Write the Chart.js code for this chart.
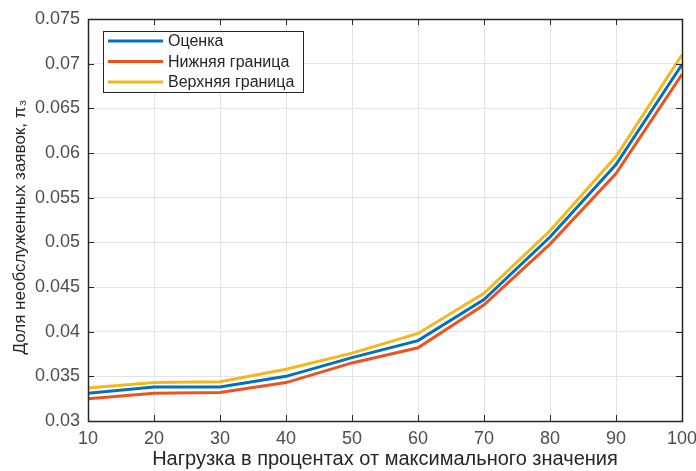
<!DOCTYPE html>
<html lang="ru">
<head>
  <meta charset="UTF-8">
  <title>Доля необслуженных заявок</title>
  <style>
    html, body {
      margin: 0;
      padding: 0;
      background: #fff;
    }
    #wrap {
      width: 696px;
      height: 471px;
    }
  </style>
</head>
<body>

  <div id="wrap"><canvas id="chartCanvas"></canvas></div>

  <script src="https://cdn.jsdelivr.net/npm/chart.js@4/dist/chart.umd.min.js"></script>

  <script>
    // Нагрузка, % от максимального значения
    const loads = [10, 20, 30, 40, 50, 60, 70, 80, 90, 100];

    // Доля необслуженных заявок
    const estimate = [0.0331, 0.0338, 0.0338, 0.0350, 0.0371, 0.0390, 0.0436, 0.0506, 0.0587, 0.0699];
    const lowerBound = [0.0325, 0.0331, 0.0332, 0.0343, 0.0365, 0.0382, 0.0430, 0.0498, 0.0577, 0.0688];
    const upperBound = [0.0337, 0.0343, 0.0344, 0.0358, 0.0376, 0.0398, 0.0443, 0.0513, 0.0596, 0.0710];

    const seriesNames = ['Оценка', 'Нижняя граница', 'Верхняя граница'];

    const xTicks = [10, 20, 30, 40, 50, 60, 70, 80, 90, 100];
    const yTicks = [0.03, 0.035, 0.04, 0.045, 0.05, 0.055, 0.06, 0.065, 0.07, 0.075];

    const FONT = "'Liberation Sans', Arial, sans-serif";
    const AXIS_COLOR = '#262626';

    const toPoints = vals => loads.map((x, i) => ({ x: x, y: vals[i] }));

    function makeSet(label, vals, color) {
      return {
        label: label,
        data: toPoints(vals),
        borderColor: color,
        backgroundColor: color,
        borderWidth: 3,
        pointRadius: 0,
        tension: 0
      };
    }

    // оси не должны сдвигать область графика из-за крайних подписей
    function noEdgePadding(s) {
      s.paddingLeft = 0;
      s.paddingRight = 0;
      s.paddingTop = 0;
      s.paddingBottom = 0;
    }

    // Рамка осей с засечками внутрь со всех четырёх сторон
    const boxPlugin = {
      id: 'box',
      afterDraw(chart) {
        const { ctx, chartArea: a, scales } = chart;
        const t = 6;
        ctx.save();
        ctx.strokeStyle = AXIS_COLOR;
        ctx.lineWidth = 1;
        ctx.beginPath();
        xTicks.forEach(v => {
          const px = Math.round(scales.x.getPixelForValue(v)) + 0.5;
          ctx.moveTo(px, a.bottom); ctx.lineTo(px, a.bottom - t);
          ctx.moveTo(px, a.top); ctx.lineTo(px, a.top + t);
        });
        yTicks.forEach(v => {
          const py = Math.round(scales.y.getPixelForValue(v)) + 0.5;
          ctx.moveTo(a.left, py); ctx.lineTo(a.left + t, py);
          ctx.moveTo(a.right, py); ctx.lineTo(a.right - t, py);
        });
        ctx.stroke();
        ctx.lineWidth = 1.5;
        ctx.strokeRect(Math.round(a.left) + 0.5, Math.round(a.top) + 0.5,
          Math.round(a.right - a.left), Math.round(a.bottom - a.top));
        ctx.restore();
      }
    };

    // Легенда внутри области графика, в левом верхнем углу
    const insideLegend = {
      id: 'insideLegend',
      afterDraw(chart) {
        const { ctx, chartArea: a } = chart;
        const x0 = a.left + 15, y0 = a.top + 12;
        const w = 200, rowH = 20.5, h = 61;
        ctx.save();
        ctx.fillStyle = '#fff';
        ctx.fillRect(x0, y0, w, h);
        ctx.strokeStyle = AXIS_COLOR;
        ctx.lineWidth = 1;
        ctx.strokeRect(x0 + 0.5, y0 + 0.5, w, h);
        ctx.font = '16px ' + FONT;
        ctx.textBaseline = 'middle';
        chart.data.datasets.forEach((ds, i) => {
          const y = y0 + 10 + rowH * i;
          ctx.strokeStyle = ds.borderColor;
          ctx.lineWidth = 3;
          ctx.beginPath();
          ctx.moveTo(x0 + 5, y);
          ctx.lineTo(x0 + 60, y);
          ctx.stroke();
          ctx.fillStyle = AXIS_COLOR;
          ctx.fillText(ds.label, x0 + 65, y + 1);
        });
        ctx.restore();
      }
    };

    const ctx = document.getElementById('chartCanvas').getContext('2d');
    new Chart(ctx, {
      type: 'line',
      data: {
        datasets: [
          makeSet(seriesNames[0], estimate, '#0072BD'),
          makeSet(seriesNames[1], lowerBound, '#F0511F'),
          makeSet(seriesNames[2], upperBound, '#F6B71A')
        ]
      },
      options: {
        responsive: true,
        maintainAspectRatio: false,
        animation: false,
        layout: { padding: { left: 0, right: 14, top: 19, bottom: 0 } },
        plugins: {
          legend: { display: false },
          tooltip: { enabled: false }
        },
        scales: {
          x: {
            type: 'linear',
            min: 10,
            max: 100,
            afterBuildTicks: s => { s.ticks = xTicks.map(v => ({ value: v })); },
            afterFit: s => { s.height = 50; noEdgePadding(s); },
            grid: { color: '#e3e3e3', drawTicks: false },
            border: { display: false },
            ticks: {
              color: '#4d4d4d',
              padding: 7,
              maxRotation: 0,
              font: { family: FONT, size: 18 }
            },
            title: {
              display: true,
              text: 'Нагрузка в процентах от максимального значения',
              color: '#262626',
              font: { family: FONT, size: 20 },
              padding: { top: 0, bottom: 0 }
            }
          },
          y: {
            min: 0.03,
            max: 0.075,
            afterBuildTicks: s => { s.ticks = yTicks.map(v => ({ value: v })); },
            afterFit: s => { s.width = 88; noEdgePadding(s); },
            grid: { color: '#e3e3e3', drawTicks: false },
            border: { display: false },
            ticks: {
              color: '#4d4d4d',
              padding: 8,
              font: { family: FONT, size: 18 },
              callback: v => String(+v.toFixed(3))
            },
            title: {
              display: true,
              text: 'Доля необслуженных заявок, π₃   ',
              color: '#262626',
              font: { family: FONT, size: 17 },
              padding: { top: 10, bottom: 0 }
            }
          }
        }
      },
      plugins: [boxPlugin, insideLegend]
    });
  </script>

</body>
</html>
